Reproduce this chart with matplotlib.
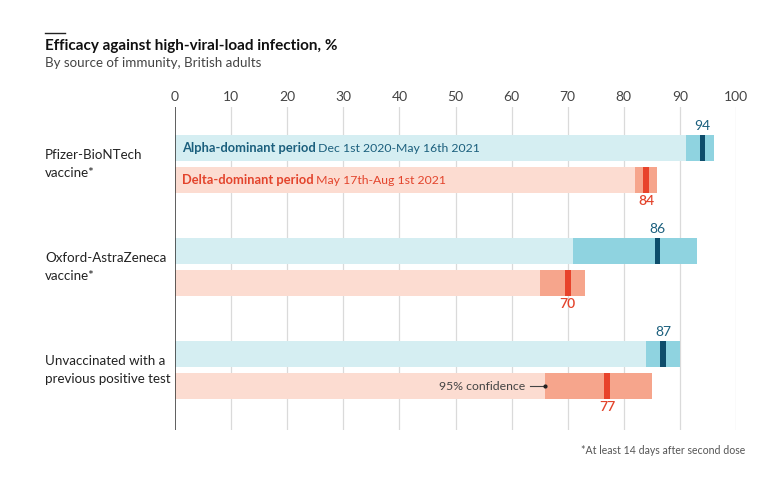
import numpy as np
import matplotlib.pyplot as plt

plt.rcParams['font.family'] = ['Lato', 'DejaVu Sans']

groups = ['Pfizer-BioNTech\nvaccine*', 'Oxford-AstraZeneca\nvaccine*',
          'Unvaccinated with a\nprevious positive test']
alpha_val = [94, 86, 87]
alpha_lo = [91, 71, 84]
alpha_hi = [96, 93, 90]
delta_val = [84, 70, 77]
delta_lo = [82, 65, 66]
delta_hi = [86, 73, 85]
xticks = [0, 10, 20, 30, 40, 50, 60, 70, 80, 90, 100]

light_blue = '#d5eef2'
mid_blue = '#8fd3e0'
dark_blue = '#0e4d6b'
light_red = '#fcdcd1'
mid_red = '#f6a58c'
dark_red = '#e8432b'
txt_blue = '#1b5f7d'
txt_red = '#e3442c'

fig = plt.figure(figsize=(7.8, 4.83), dpi=100)
ax = fig.add_axes([175 / 780, 1 - 430 / 483, (736 - 175) / 780, (430 - 107) / 483])
ax.set_xlim(0, 100)
ax.set_ylim(430, 107)

centers = 164 + 103 * np.arange(len(groups))
h = 26
off = 16

for x in xticks[1:]:
    ax.axvline(x, color='#dadada', lw=0.9, zorder=0)
ax.axvline(0, color='#333333', lw=1.1, zorder=5)

ax.barh(centers - off, alpha_lo, height=h, color=light_blue, zorder=1)
ax.barh(centers - off, np.array(alpha_hi) - np.array(alpha_lo), left=alpha_lo,
        height=h, color=mid_blue, zorder=2)
ax.barh(centers + off, delta_lo, height=h, color=light_red, zorder=1)
ax.barh(centers + off, np.array(delta_hi) - np.array(delta_lo), left=delta_lo,
        height=h, color=mid_red, zorder=2)
ax.barh(centers - off, 1.0, left=np.array(alpha_val) - 0.5, height=h, color=dark_blue, zorder=3)
ax.barh(centers + off, 1.0, left=np.array(delta_val) - 0.5, height=h, color=dark_red, zorder=3)

for c, v in zip(centers, alpha_val):
    ax.text(v, c - off - h / 2 - 3, str(v), color=txt_blue, fontsize=10,
            ha='center', va='bottom')
for c, v in zip(centers, delta_val):
    ax.text(v, c + off + h / 2 + 2, str(v), color=txt_red, fontsize=10,
            ha='center', va='top', fontweight='semibold')

for c, g in zip(centers, groups):
    fig.text(45 / 780, 1 - c / 483, g, fontsize=9.6, color='#222222',
             ha='left', va='center', linespacing=1.55)

t1 = ax.text(1.2, centers[0] - off, 'Alpha-dominant period', color=txt_blue,
             fontsize=9.3, fontweight='bold', va='center', zorder=4)
ax.annotate(' Dec 1st 2020-May 16th 2021', xy=(1, 0), xycoords=t1, va='bottom',
            color=txt_blue, fontsize=8.8, zorder=4)
t2 = ax.text(1.2, centers[0] + off, 'Delta-dominant period', color=txt_red,
             fontsize=9.3, fontweight='bold', va='center', zorder=4)
ax.annotate(' May 17th-Aug 1st 2021', xy=(1, 0), xycoords=t2, va='bottom',
            color=txt_red, fontsize=8.8, zorder=4)

# 95% confidence callout
yc = centers[2] + off
ax.plot([delta_lo[2] - 2.7, delta_lo[2]], [yc, yc], color='#444444', lw=0.8, zorder=4)
ax.plot([delta_lo[2]], [yc], 'o', color='#222222', ms=2, zorder=4)
ax.text(delta_lo[2] - 3.6, yc, '95% confidence', color='#444444', fontsize=8.8,
        ha='right', va='center', zorder=4)

ax.set_xticks(xticks)
ax.xaxis.tick_top()
ax.tick_params(axis='x', length=0, pad=3, labelsize=10, labelcolor='#444444')
ax.set_yticks([])
for s in ax.spines.values():
    s.set_visible(False)

fig.add_artist(plt.Line2D([45 / 780, 65 / 780], [1 - 33 / 483] * 2, color='#222222', lw=1))
fig.text(45 / 780, 1 - 46 / 483, 'Efficacy against high-viral-load infection, %',
         fontsize=11, fontweight='bold', color='#111111', va='center')
fig.text(45 / 780, 1 - 63 / 483, 'By source of immunity, British adults',
         fontsize=9.6, color='#444444', va='center')
fig.text(745 / 780, 1 - 451 / 483, '*At least 14 days after second dose',
         fontsize=7.6, color='#555555', ha='right', va='center')

fig.savefig('out.png', dpi=100)
